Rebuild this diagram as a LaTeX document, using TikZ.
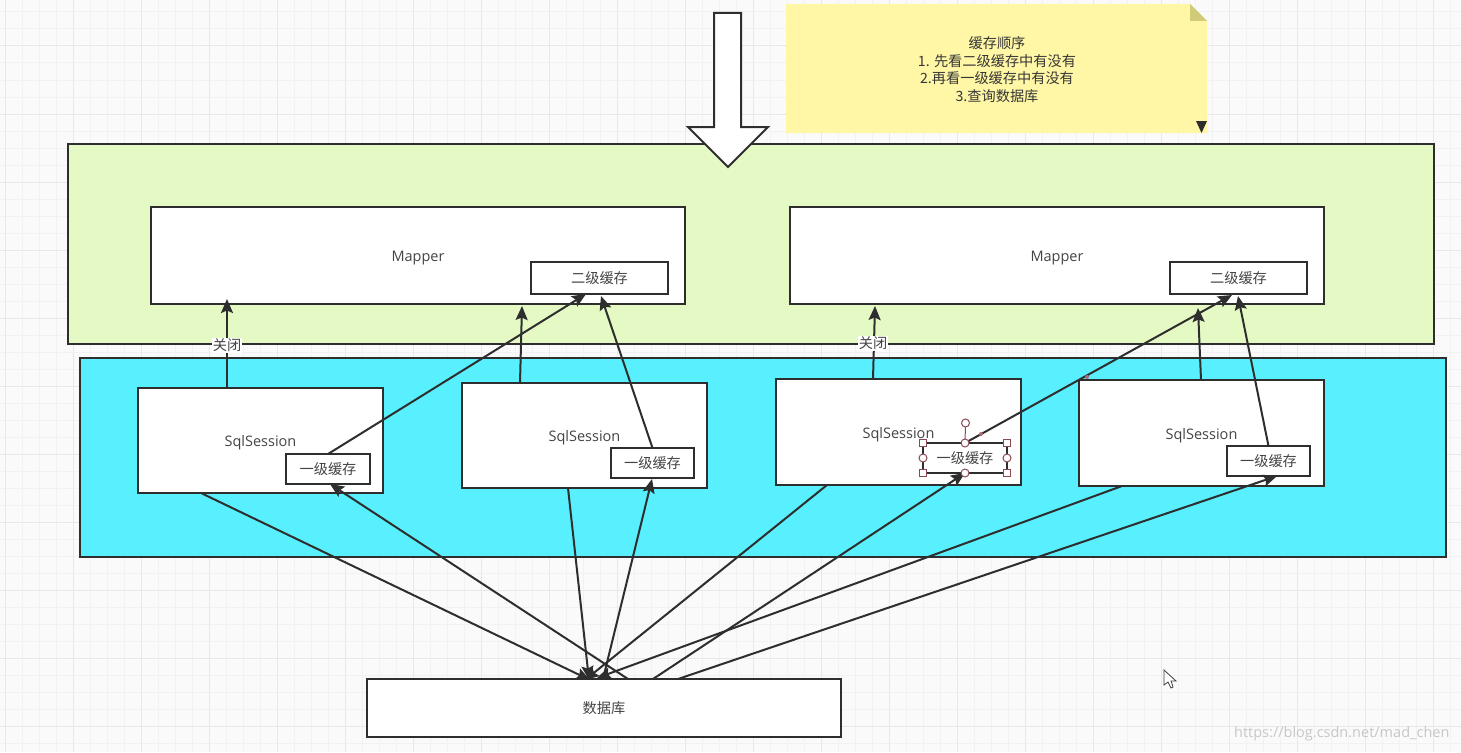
\documentclass[tikz,border=0pt]{standalone}
\usepackage{fontspec}
\setmainfont{Open Sans}
\newfontfamily\cjk{Noto Sans CJK SC}
\usetikzlibrary{arrows.meta}
\definecolor{ln}{HTML}{2E2E2E}
\definecolor{txt}{HTML}{444444}
\definecolor{hd}{HTML}{8A4A55}
\definecolor{ny}{HTML}{FFF7A6}
\definecolor{nf}{HTML}{CFCB78}
\definecolor{lg}{HTML}{E5F9C4}
\definecolor{lb}{HTML}{58F0FF}
\tikzset{
  box/.style={draw=ln,line width=2pt,fill=white,inner sep=0pt,outer sep=0pt,text=txt,
    text height=14pt,text depth=2pt,font=\fontsize{14.5}{16}\selectfont},
  cbox/.style={box,text height=13pt,text depth=2pt,font=\cjk\fontsize{14.2}{15}\selectfont},
  lane/.style={box,anchor=north west},
  lab/.style={fill=white,inner sep=1pt,text=txt,font=\cjk\fontsize{14.2}{15}\selectfont},
  con/.style={draw=ln,line width=2pt,-{Stealth[length=14pt,width=12pt,inset=2.5pt]}},
  sq/.style={draw=hd,line width=1pt,fill=white,inner sep=0pt,minimum size=7pt},
  rd/.style={draw=hd,line width=1pt,fill=white,circle,inner sep=0pt,minimum size=8pt},
}
\begin{document}
\begin{tikzpicture}[x=1pt,y=-1pt]
\useasboundingbox (0,0) rectangle (1461,752);
\fill[white!98!black] (0,0) rectangle (1461,752);
% grid
\foreach \i in {0,...,85} \draw[black!5,line width=1pt] ({5+17*\i},0) -- ({5+17*\i},752);
\foreach \i in {0,...,44} \draw[black!5,line width=1pt] (0,{12+17*\i}) -- (1461,{12+17*\i});
\foreach \i in {0,...,21} \draw[black!9,line width=1pt] ({5+68*\i},0) -- ({5+68*\i},752);
\foreach \i in {0,...,11} \draw[black!9,line width=1pt] (0,{46+68*\i}) -- (1461,{46+68*\i});

% note
\fill[ny] (786,4) -- (1190,4) -- (1207,21) -- (1207,133) -- (786,133) -- cycle;
\fill[nf] (1190,4) -- (1207,21) -- (1190,21) -- cycle;
\fill[ln] (1196,121) -- (1207,121) -- (1201.5,133) -- cycle;
\node[align=center,text=txt!80!black,font=\cjk\fontsize{14.2}{17.7}\selectfont] (note) at (997,69.5)
  {缓存顺序\\1. 先看二级缓存中有没有\\2.再看一级缓存中有没有\\3.查询数据库};

% lanes
\node[lane,fill=lg,minimum width=1366pt,minimum height=200pt] (green) at (68,144) {};
\node[lane,fill=lb,minimum width=1366pt,minimum height=199pt] (blue) at (80,358) {};

% big arrow
\filldraw[draw=ln,fill=white,line width=2pt,line join=miter]
  (714,13) -- (741,13) -- (741,127) -- (768,127) -- (728,167) -- (688,127) -- (714,127) -- cycle;

% mappers
\node[box,minimum width=534pt,minimum height=97pt] (m1) at (418,255.5) {Mapper};
\node[box,minimum width=534pt,minimum height=97pt] (m2) at (1057,255.5) {Mapper};
\node[cbox,minimum width=137pt,minimum height=32pt] (l1) at (599.5,278) {二级缓存};
\node[cbox,minimum width=137pt,minimum height=32pt] (l2) at (1238.5,278) {二级缓存};

% sessions
\node[box,minimum width=245pt,minimum height=105pt] (s1) at (260.5,440.5) {SqlSession};
\node[box,minimum width=245pt,minimum height=105pt] (s2) at (584.5,435.5) {SqlSession};
\node[box,minimum width=245pt,minimum height=106pt] (s3) at (898.5,432) {SqlSession};
\node[box,minimum width=245pt,minimum height=106pt] (s4) at (1201.5,433) {SqlSession};
\node[cbox,minimum width=84pt,minimum height=30pt] (c1) at (328,469) {一级缓存};
\node[cbox,minimum width=83pt,minimum height=30pt] (c2) at (652.5,463) {一级缓存};
\node[cbox,minimum width=84pt,minimum height=30pt] (c3) at (965,458) {一级缓存};
\node[cbox,minimum width=83pt,minimum height=30pt] (c4) at (1268.5,461) {一级缓存};

% database
\node[cbox,minimum width=474pt,minimum height=58pt] (db) at (604,708) {数据库};

% connector ends
\coordinate (a1) at (227,388); \coordinate (a1t) at (227,299);
\coordinate (a2) at (520,383); \coordinate (a2t) at (522,306);
\coordinate (a3) at (873,379); \coordinate (a3t) at (875,306);
\coordinate (a4) at (1201,380); \coordinate (a4t) at (1198,308);
\coordinate (l1a) at (586,294); \coordinate (l1b) at (601,296);
\coordinate (l2a) at (1232,295); \coordinate (l2b) at (1238,296);
\coordinate (sb1) at (201,493); \coordinate (sb2) at (568,488);
\coordinate (sb3) at (827,485); \coordinate (sb4) at (1122,486);
\coordinate (d1) at (590,680); \coordinate (d2) at (589,680);
\coordinate (d3) at (585,680); \coordinate (d4) at (597,678);
\coordinate (u1) at (628,679); \coordinate (u2) at (603,679);
\coordinate (u3) at (653,679); \coordinate (u4) at (678,679);
\coordinate (ct1) at (330,484); \coordinate (ct2) at (652,479);
\coordinate (ct3) at (965,473); \coordinate (ct4) at (1277,476);

% session to mapper
\draw[con] (a1) -- (a1t);
\draw[con] (a2) -- (a2t);
\draw[con] (a3) -- (a3t);
\draw[con] (a4) -- (a4t);
% cache to second level
\draw[con] (c1.north) -- (l1a);
\draw[con] (c2.north) -- (l1b);
\draw[con] (c3.north) -- (l2a);
\draw[con] (c4.north) -- (l2b);
% session to database
\draw[con] (sb1) -- (d1);
\draw[con] (sb2) -- (d2);
\draw[con] (sb3) -- (d3);
\draw[con] (sb4) -- (d4);
% database to cache
\draw[con] (u1) -- (ct1);
\draw[con] (u2) -- (ct2);
\draw[con] (u3) -- (ct3);
\draw[con] (u4) -- (ct4);

\node[lab] (k1) at (227,345) {关闭};
\node[lab] (k2) at (873,343) {关闭};

% selection handles on third cache box
\draw[hd,line width=1pt] (c3.north) -- (965.5,423);
\node[rd] (h0) at (965.5,423) {};
\node[rd] (h1) at (c3.north) {};
\node[rd] (h2) at (c3.south) {};
\node[rd] (h3) at (c3.west) {};
\node[rd] (h4) at (c3.east) {};
\node[sq] (h5) at (c3.north west) {};
\node[sq] (h6) at (c3.north east) {};
\node[sq] (h7) at (c3.south west) {};
\node[sq] (h8) at (c3.south east) {};
\fill[hd!70!pink] (981,434) circle (2);
\fill[hd!70!pink] (1087,377) circle (2);

% mouse cursor
\filldraw[draw=black!75,fill=white,line width=0.8pt]
  (1164,670) -- (1164,685) -- (1168,682) -- (1171,688) -- (1173,687) -- (1171,681) -- (1176,681) -- cycle;

\node[anchor=east,text=black!22,font=\fontsize{14.5}{18}\selectfont] (wm) at (1453,734) {https://blog.csdn.net/mad\_chen};
\end{tikzpicture}
\end{document}
